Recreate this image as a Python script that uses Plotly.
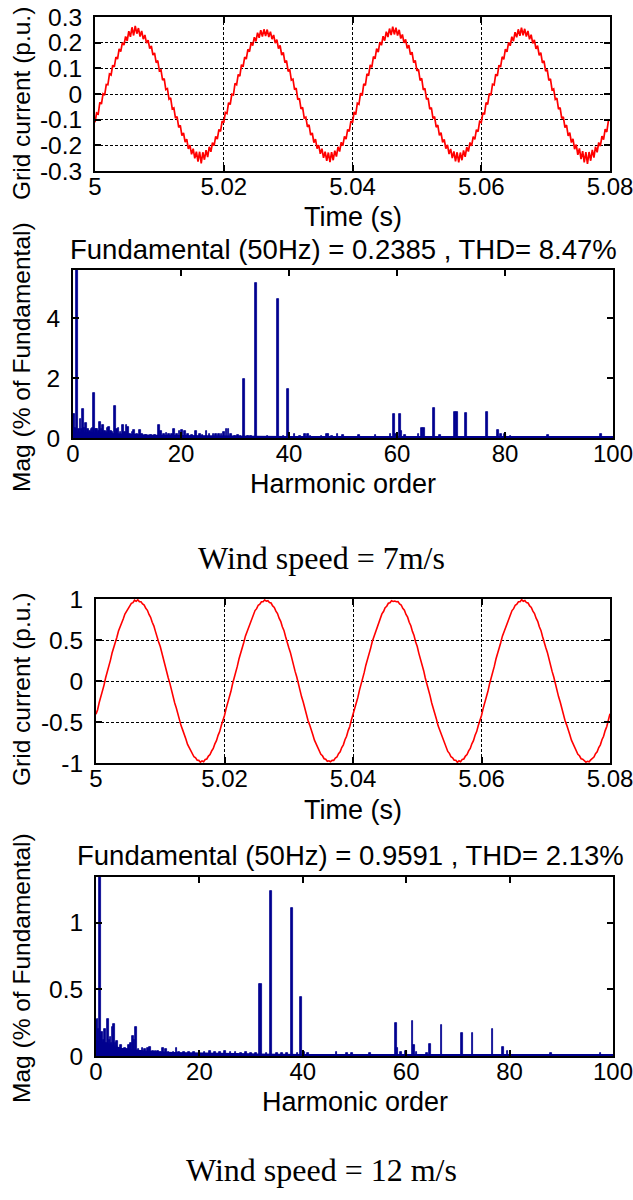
import plotly.graph_objects as go

W, H = 633, 1200
SANS = "Liberation Sans, Arial, sans-serif"
SERIF = "Liberation Serif, Times New Roman, serif"
NAVY = "rgb(0,0,143)"
RED = "#ff0000"
XTICK_SIZE = 24
YTICK_SIZE = 24.5
XLABEL_SIZE = 27
YLABEL_SIZE = 24.5
TITLE_SIZE = 27.5
CAPTION_SIZE = 32

# ---------------- data ----------------
# sampling grid of the time traces (5.00 s .. 5.08 s, 0.25 ms)
time_start, time_step, n_samples = 5.0, 0.00025, 321
time_s = [round(time_start + i * time_step, 5) for i in range(n_samples)]

current_7ms = [
    -0.110, -0.074, -0.078, -0.033, -0.039, 0.001, -0.004, 0.037, 0.036, 0.078,
    0.074, 0.112, 0.106, 0.144, 0.136, 0.176, 0.165, 0.200, 0.191, 0.224,
    0.207, 0.245, 0.223, 0.260, 0.228, 0.265, 0.235, 0.257, 0.224, 0.246,
    0.214, 0.230, 0.198, 0.210, 0.177, 0.187, 0.152, 0.160, 0.122, 0.130,
    0.090, 0.094, 0.054, 0.060, 0.017, 0.021, -0.020, -0.015, -0.058, -0.054,
    -0.094, -0.088, -0.130, -0.122, -0.162, -0.152, -0.187, -0.176, -0.214, -0.199,
    -0.235, -0.213, -0.251, -0.225, -0.263, -0.225, -0.270, -0.227, -0.256, -0.219,
    -0.246, -0.206, -0.225, -0.190, -0.201, -0.165, -0.176, -0.138, -0.146, -0.106,
    -0.112, -0.072, -0.076, -0.034, -0.041, -0.001, -0.004, 0.041, 0.036, 0.076,
    0.070, 0.114, 0.106, 0.144, 0.136, 0.174, 0.165, 0.200, 0.189, 0.221,
    0.205, 0.239, 0.219, 0.249, 0.224, 0.252, 0.226, 0.251, 0.222, 0.243,
    0.214, 0.230, 0.198, 0.212, 0.177, 0.189, 0.152, 0.162, 0.122, 0.130,
    0.088, 0.096, 0.054, 0.058, 0.017, 0.023, -0.022, -0.017, -0.058, -0.052,
    -0.094, -0.090, -0.128, -0.120, -0.160, -0.152, -0.189, -0.176, -0.213, -0.199,
    -0.233, -0.213, -0.249, -0.225, -0.260, -0.228, -0.265, -0.227, -0.258, -0.221,
    -0.244, -0.206, -0.224, -0.188, -0.201, -0.165, -0.176, -0.138, -0.146, -0.106,
    -0.112, -0.070, -0.080, -0.036, -0.040, 0.003, -0.006, 0.039, 0.034, 0.078,
    0.072, 0.113, 0.104, 0.146, 0.137, 0.177, 0.163, 0.202, 0.190, 0.225,
    0.208, 0.243, 0.222, 0.255, 0.230, 0.262, 0.232, 0.258, 0.228, 0.250,
    0.216, 0.232, 0.199, 0.213, 0.178, 0.190, 0.153, 0.163, 0.122, 0.131,
    0.090, 0.096, 0.053, 0.061, 0.016, 0.022, -0.021, -0.016, -0.059, -0.053,
    -0.095, -0.088, -0.129, -0.121, -0.161, -0.151, -0.188, -0.177, -0.213, -0.198,
    -0.234, -0.214, -0.250, -0.224, -0.262, -0.227, -0.266, -0.228, -0.258, -0.220,
    -0.245, -0.207, -0.224, -0.189, -0.202, -0.166, -0.177, -0.139, -0.147, -0.107,
    -0.111, -0.073, -0.079, -0.034, -0.040, 0.002, -0.005, 0.038, 0.035, 0.077,
    0.071, 0.112, 0.105, 0.145, 0.135, 0.175, 0.164, 0.201, 0.188, 0.223,
    0.206, 0.241, 0.221, 0.252, 0.227, 0.258, 0.229, 0.254, 0.224, 0.246,
    0.213, 0.231, 0.197, 0.211, 0.176, 0.188, 0.151, 0.161, 0.121, 0.129,
    0.089, 0.095, 0.053, 0.059, 0.016, 0.020, -0.021, -0.016, -0.059, -0.053,
    -0.095, -0.089, -0.131, -0.121, -0.163, -0.151, -0.189, -0.175, -0.215, -0.197,
    -0.237, -0.212, -0.254, -0.223, -0.266, -0.226, -0.272, -0.226, -0.260, -0.218,
    -0.248, -0.205, -0.227, -0.189, -0.203, -0.164, -0.178, -0.137, -0.148, -0.105,
    -0.100,
]

current_12ms = [
    -0.405, -0.350, -0.262, -0.200, -0.113, -0.050, 0.040, 0.104, 0.193, 0.255,
    0.341, 0.400, 0.480, 0.534, 0.610, 0.655, 0.720, 0.760, 0.817, 0.847,
    0.893, 0.912, 0.947, 0.955, 0.985, 0.972, 0.990, 0.968, 0.966, 0.940,
    0.926, 0.886, 0.862, 0.811, 0.777, 0.716, 0.673, 0.605, 0.553, 0.476,
    0.420, 0.337, 0.275, 0.189, 0.125, 0.037, -0.029, -0.117, -0.182, -0.268,
    -0.330, -0.413, -0.470, -0.547, -0.599, -0.668, -0.711, -0.773, -0.807, -0.859,
    -0.883, -0.924, -0.937, -0.966, -0.968, -0.990, -0.974, -0.985, -0.957, -0.951,
    -0.916, -0.898, -0.853, -0.823, -0.767, -0.728, -0.663, -0.617, -0.543, -0.488,
    -0.421, -0.337, -0.276, -0.189, -0.126, -0.037, 0.028, 0.117, 0.181, 0.268,
    0.329, 0.413, 0.469, 0.547, 0.598, 0.668, 0.710, 0.773, 0.806, 0.859,
    0.882, 0.924, 0.936, 0.966, 0.967, 0.988, 0.973, 0.980, 0.956, 0.951,
    0.915, 0.898, 0.852, 0.823, 0.766, 0.728, 0.662, 0.617, 0.542, 0.488,
    0.409, 0.349, 0.264, 0.201, 0.114, 0.049, -0.040, -0.105, -0.193, -0.256,
    -0.341, -0.401, -0.481, -0.535, -0.610, -0.656, -0.722, -0.761, -0.818, -0.847,
    -0.894, -0.912, -0.948, -0.954, -0.979, -0.973, -0.985, -0.968, -0.968, -0.939,
    -0.927, -0.886, -0.864, -0.811, -0.778, -0.716, -0.674, -0.605, -0.554, -0.476,
    -0.409, -0.349, -0.264, -0.201, -0.114, -0.049, 0.040, 0.105, 0.193, 0.256,
    0.341, 0.401, 0.481, 0.535, 0.610, 0.656, 0.722, 0.761, 0.818, 0.847,
    0.894, 0.912, 0.948, 0.954, 0.978, 0.970, 0.975, 0.966, 0.968, 0.939,
    0.927, 0.886, 0.864, 0.811, 0.778, 0.716, 0.674, 0.605, 0.554, 0.476,
    0.421, 0.337, 0.276, 0.189, 0.126, 0.037, -0.028, -0.117, -0.181, -0.268,
    -0.329, -0.413, -0.469, -0.547, -0.598, -0.668, -0.710, -0.773, -0.806, -0.859,
    -0.882, -0.924, -0.936, -0.966, -0.967, -0.992, -0.973, -0.985, -0.956, -0.951,
    -0.915, -0.898, -0.852, -0.823, -0.766, -0.728, -0.662, -0.617, -0.542, -0.488,
    -0.421, -0.337, -0.276, -0.189, -0.126, -0.037, 0.028, 0.117, 0.181, 0.268,
    0.329, 0.413, 0.469, 0.547, 0.598, 0.668, 0.710, 0.773, 0.806, 0.859,
    0.882, 0.924, 0.936, 0.966, 0.967, 0.992, 0.973, 0.982, 0.956, 0.951,
    0.915, 0.898, 0.852, 0.823, 0.766, 0.728, 0.662, 0.617, 0.542, 0.488,
    0.409, 0.349, 0.264, 0.201, 0.114, 0.049, -0.040, -0.105, -0.193, -0.256,
    -0.341, -0.401, -0.481, -0.535, -0.610, -0.656, -0.722, -0.761, -0.818, -0.847,
    -0.894, -0.912, -0.948, -0.954, -0.973, -0.990, -0.979, -0.985, -0.962, -0.939,
    -0.927, -0.886, -0.864, -0.811, -0.778, -0.716, -0.674, -0.605, -0.554, -0.476,
    -0.400,
]

# harmonic spectrum, 7 m/s (magnitude in % of fundamental)
harm_7ms = [
    0.1, 0.25, 0.4, 0.55, 0.8, 1.1, 1.4, 1.6, 1.8, 2.1, 2.4, 2.8, 3.1, 3.4, 3.6, 3.9,
    4.2, 4.5, 4.8, 5.0, 5.3, 5.5, 5.9, 6.2, 6.4, 6.7, 7.0, 7.3, 7.75, 8.1, 8.4, 8.8,
    9.2, 9.6, 9.9, 10.2, 10.6, 11.0, 11.3, 11.8, 12.4, 12.8, 13.5, 14.5, 15.2, 15.9,
    16.3, 16.8, 17.3, 17.8, 18.3, 18.7, 19.2, 19.7, 20.2, 20.7, 21.3, 22.0, 22.8,
    23.5, 24.0, 24.7, 25.3, 26.0, 26.5, 27.0, 27.5, 28.0, 28.4, 28.8, 29.3, 30.0,
    30.5, 31.0, 31.6, 32.4, 33.0, 33.9, 34.5, 35.0, 36.0, 37.0, 37.9, 38.5, 39.0,
    39.8, 40.5, 41.0, 42.0, 43.0, 43.5, 44.0, 45.0, 46.0, 47.0, 47.3, 48.0, 49.0,
    50.0, 51.0, 52.0, 53.0, 54.0, 55.0, 56.0, 57.0, 58.0, 58.8, 59.4, 59.8, 60.5,
    60.8, 61.5, 62.0, 63.0, 64.0, 64.6, 65.0, 66.0, 66.8, 67.5, 68.0, 69.0, 70.0,
    70.7, 71.1, 72.0, 72.8, 73.5, 74.0, 75.0, 76.0, 76.6, 77.5, 78.7, 79.2, 80.0,
    81.0, 82.0, 83.0, 84.0, 85.0, 86.0, 87.0, 88.0, 89.0, 90.0, 91.0, 92.0, 93.0,
    94.0, 95.0, 96.0, 97.0, 97.8, 98.5, 99.0, 99.5,
]
mag_7ms = [
    0.25, 0.79, 0.35, 0.3, 100.0, 0.3, 0.62, 0.3, 0.96, 0.35, 0.49, 0.3, 0.25, 0.3, 0.32, 1.49,
    0.3, 0.3, 0.25, 0.54, 0.3, 0.43, 0.25, 0.2, 0.35, 0.38, 0.25, 0.2, 1.08, 0.3, 0.32, 0.2,
    0.43, 0.2, 0.42, 0.38, 0.15, 0.2, 0.27, 0.12, 0.27, 0.12, 0.1, 0.1, 0.1, 0.42,
    0.25, 0.15, 0.18, 0.12, 0.15, 0.3, 0.15, 0.25, 0.27, 0.22, 0.12, 0.1, 0.22,
    0.12, 0.1, 0.25, 0.12, 0.15, 0.15, 0.12, 0.15, 0.2, 0.3, 0.3, 0.12, 0.08,
    0.1, 0.08, 1.97, 0.08, 0.08, 5.17, 0.05, 0.05, 0.06, 0.05, 4.63, 0.05, 0.06,
    1.63, 0.05, 0.12, 0.06, 0.15, 0.12, 0.06, 0.05, 0.06, 0.15, 0.15, 0.06, 0.15,
    0.1, 0.05, 0.05, 0.1, 0.05, 0.05, 0.1, 0.05, 0.05, 0.12, 0.8, 0.15, 0.8,
    0.25, 0.1, 0.05, 0.05, 0.12, 0.33, 0.33, 0.05, 0.99, 0.05, 0.1, 0.05, 0.05,
    0.88, 0.88, 0.05, 0.82, 0.05, 0.05, 0.05, 0.05, 0.88, 0.05, 0.28, 0.12, 0.15,
    0.06, 0.05, 0.05, 0.05, 0.05, 0.05, 0.05, 0.1, 0.05, 0.05, 0.05, 0.05, 0.05,
    0.05, 0.05, 0.05, 0.05, 0.12, 0.05, 0.05, 0.05,
]
floor_orders_7ms = [0, 5, 10, 15, 20, 25, 30, 40, 50, 60, 70, 80, 90, 100]
floor_mag_7ms = [0.22, 0.18, 0.14, 0.11, 0.1, 0.1, 0.08, 0.07, 0.07, 0.07, 0.07, 0.07, 0.07, 0.07]

# harmonic spectrum, 12 m/s
harm_12ms = [
    0.1, 0.3, 0.5, 0.75, 1.0, 1.2, 1.5, 1.7, 2.0, 2.3, 2.6, 2.8, 3.0, 3.2, 3.5, 3.8,
    4.0, 4.4, 4.8, 5.2, 5.6, 6.0, 6.4, 6.8, 7.1, 7.4, 7.75, 8.2, 8.6, 9.0, 9.5, 10.0,
    10.5, 11.0, 11.5, 12.0, 12.5, 13.0, 13.5, 14.0, 15.0, 15.6, 16.0, 17.0, 18.0,
    19.0, 20.0, 21.0, 22.0, 23.0, 24.0, 25.0, 26.0, 27.0, 28.0, 29.0, 30.0, 31.0,
    31.6, 31.9, 33.0, 33.8, 35.0, 36.0, 37.0, 37.9, 39.0, 39.7, 40.2, 41.0, 46.5,
    48.5, 49.5, 53.0, 58.0, 58.3, 59.0, 60.0, 61.2, 61.5, 62.0, 64.0, 64.6, 66.8,
    70.8, 72.8, 76.7, 78.7, 79.6, 88.0, 97.6,
]
mag_12ms = [
    0.27, 0.28, 0.2, 100.0, 0.15, 0.18, 0.12, 0.2, 0.1, 0.28, 0.12, 0.14, 0.1, 0.22, 0.24, 0.1,
    0.11, 0.06, 0.08, 0.05, 0.06, 0.05, 0.08, 0.1, 0.15, 0.12, 0.22, 0.05, 0.04, 0.06, 0.05, 0.06,
    0.07, 0.04, 0.04, 0.04, 0.03, 0.06, 0.05, 0.03, 0.03, 0.06, 0.03, 0.03, 0.03,
    0.03, 0.03, 0.03, 0.04, 0.03, 0.03, 0.04, 0.03, 0.03, 0.02, 0.03, 0.02, 0.02,
    0.54, 0.54, 0.02, 1.24, 0.02, 0.02, 0.02, 1.11, 0.02, 0.44, 0.03, 0.02, 0.03,
    0.02, 0.02, 0.02, 0.25, 0.06, 0.03, 0.04, 0.26, 0.08, 0.03, 0.02, 0.09, 0.23,
    0.17, 0.17, 0.2, 0.07, 0.04, 0.02, 0.02,
]
floor_orders_12ms = [0, 2, 5, 10, 15, 20, 30, 40, 50, 60, 70, 80, 90, 100]
floor_mag_12ms = [0.12, 0.1, 0.06, 0.04, 0.03, 0.025, 0.02, 0.015, 0.015, 0.015, 0.015, 0.015, 0.015, 0.015]

time_ticks = [5.0, 5.02, 5.04, 5.06, 5.08]
time_tick_text = ["5", "5.02", "5.04", "5.06", "5.08"]
y1_ticks = [-0.3, -0.2, -0.1, 0.0, 0.1, 0.2, 0.3]
y1_tick_text = ["-0.3", "-0.2", "-0.1", "0", "0.1", "0.2", "0.3"]
y3_ticks = [-1.0, -0.5, 0.0, 0.5, 1.0]
y3_tick_text = ["-1", "-0.5", "0", "0.5", "1"]
harm_ticks = [0, 20, 40, 60, 80, 100]
y2_ticks = [0, 2, 4]
y4_ticks = [0, 0.5, 1]
y4_tick_text = ["0", "0.5", "1"]

title_7 = "Fundamental (50Hz) = 0.2385 , THD= 8.47%"
title_12 = "Fundamental (50Hz) = 0.9591 , THD= 2.13%"
caption_7 = "Wind speed = 7m/s"
caption_12 = "Wind speed = 12 m/s"


# ---------------- figure ----------------
def fx(px):
    return px / W


def fy(py):
    return 1 - py / H


fig = go.Figure()
fig.add_trace(go.Scatter(x=time_s, y=current_7ms, mode="lines",
                         line=dict(color=RED, width=1.7), xaxis="x", yaxis="y"))
fig.add_trace(go.Scatter(x=floor_orders_7ms, y=floor_mag_7ms, mode="lines", fill="tozeroy",
                         line=dict(color=NAVY, width=0), fillcolor=NAVY, xaxis="x2", yaxis="y2"))
fig.add_trace(go.Bar(x=harm_7ms, y=mag_7ms, width=0.32,
                     marker=dict(color=NAVY, line=dict(color=NAVY, width=0.8)),
                     xaxis="x2", yaxis="y2"))
fig.add_trace(go.Scatter(x=time_s, y=current_12ms, mode="lines",
                         line=dict(color=RED, width=1.6), xaxis="x3", yaxis="y3"))
fig.add_trace(go.Scatter(x=floor_orders_12ms, y=floor_mag_12ms, mode="lines", fill="tozeroy",
                         line=dict(color=NAVY, width=0), fillcolor=NAVY, xaxis="x4", yaxis="y4"))
fig.add_trace(go.Bar(x=harm_12ms, y=mag_12ms, width=0.32,
                     marker=dict(color=NAVY, line=dict(color=NAVY, width=0.8)),
                     xaxis="x4", yaxis="y4"))


def ax(size, **kw):
    d = dict(showline=True, linecolor="black", linewidth=2, mirror="ticks",
             ticks="inside", ticklen=6, tickwidth=1.5, tickcolor="black",
             tickfont=dict(family=SANS, size=size, color="black"),
             zeroline=False, showgrid=False, fixedrange=True,
             automargin=False, ticklabeloverflow="allow")
    d.update(kw)
    return d


grid = dict(showgrid=True, gridcolor="black", gridwidth=1, griddash="3px,2px")

# block geometry (pixels)
p1 = dict(x0=95, x1=610, y0=17, y1=171)
p2 = dict(x0=73, x1=613, y0=270, y1=438)
p3 = dict(x0=96, x1=610, y0=599, y1=763)
p4 = dict(x0=96, x1=613, y0=877, y1=1056)

XSTAND = -7
YSTAND = 6

fig.update_layout(
    width=W, height=H, margin=dict(l=0, r=0, t=0, b=0, autoexpand=False),
    paper_bgcolor="white", plot_bgcolor="white", showlegend=False, bargap=0,
    xaxis=ax(XTICK_SIZE, domain=[fx(p1["x0"]), fx(p1["x1"])], range=[5.0, 5.08], anchor="y",
             tickvals=time_ticks, ticktext=time_tick_text, ticklabelstandoff=XSTAND, **grid),
    yaxis=ax(YTICK_SIZE, domain=[fy(p1["y1"]), fy(p1["y0"])], range=[-0.3, 0.3], anchor="x",
             tickvals=y1_ticks, ticktext=y1_tick_text, ticklabelstandoff=YSTAND, **grid),
    xaxis2=ax(XTICK_SIZE, domain=[fx(p2["x0"]), fx(p2["x1"])], range=[0, 100], anchor="y2",
              tickvals=harm_ticks, ticklabelstandoff=XSTAND),
    yaxis2=ax(YTICK_SIZE, domain=[fy(p2["y1"]), fy(p2["y0"])], range=[0, 5.6], anchor="x2",
              tickvals=y2_ticks, ticklabelstandoff=YSTAND),
    xaxis3=ax(XTICK_SIZE, domain=[fx(p3["x0"]), fx(p3["x1"])], range=[5.0, 5.08], anchor="y3",
              tickvals=time_ticks, ticktext=time_tick_text, ticklabelstandoff=XSTAND, **grid),
    yaxis3=ax(YTICK_SIZE, domain=[fy(p3["y1"]), fy(p3["y0"])], range=[-1, 1], anchor="x3",
              tickvals=y3_ticks, ticktext=y3_tick_text, ticklabelstandoff=YSTAND, **grid),
    xaxis4=ax(XTICK_SIZE, domain=[fx(p4["x0"]), fx(p4["x1"])], range=[0, 100], anchor="y4",
              tickvals=harm_ticks, ticklabelstandoff=XSTAND),
    yaxis4=ax(YTICK_SIZE, domain=[fy(p4["y1"]), fy(p4["y0"])], range=[0, 1.345], anchor="x4",
              tickvals=y4_ticks, ticktext=y4_tick_text, ticklabelstandoff=YSTAND),
)


def text(s, x, y, size, family=SANS, angle=0):
    fig.add_annotation(text=s, x=fx(x), y=fy(y), xref="paper", yref="paper",
                       xanchor="center", yanchor="middle", showarrow=False,
                       textangle=angle, font=dict(family=family, size=size, color="black"))


text("Time (s)", (p1["x0"] + p1["x1"]) / 2, 217, XLABEL_SIZE)
text(title_7, 343, 249, TITLE_SIZE)
text("Harmonic order", (p2["x0"] + p2["x1"]) / 2, 484, XLABEL_SIZE)
text("Grid current (p.u.)", 21, 104, YLABEL_SIZE, angle=-90)
text("Mag (% of Fundamental)", 21, 357, YLABEL_SIZE, angle=-90)
text(caption_7, 321, 558, CAPTION_SIZE, family=SERIF)

text("Time (s)", (p3["x0"] + p3["x1"]) / 2, 810, XLABEL_SIZE)
text(title_12, 350, 855, TITLE_SIZE)
text("Harmonic order", (p4["x0"] + p4["x1"]) / 2, 1102, XLABEL_SIZE)
text("Grid current (p.u.)", 21, 690, YLABEL_SIZE, angle=-90)
text("Mag (% of Fundamental)", 21, 968, YLABEL_SIZE, angle=-90)
text(caption_12, 321, 1170, CAPTION_SIZE, family=SERIF)

fig.write_html("out.html")
